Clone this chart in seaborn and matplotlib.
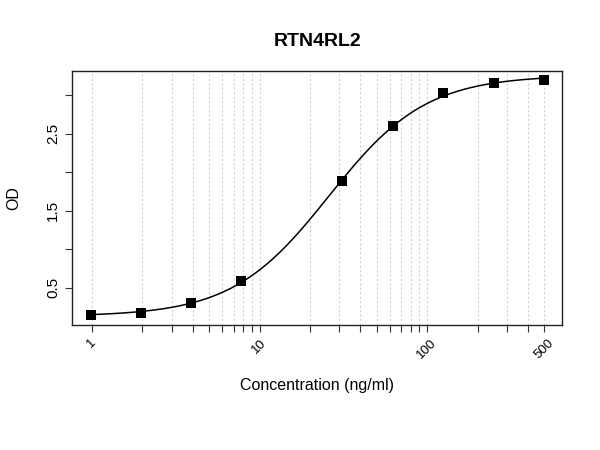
import numpy as np
import pandas as pd
import matplotlib
matplotlib.use("Agg")
import matplotlib.pyplot as plt
import matplotlib.ticker as mticker
import seaborn as sns

# standard curve data
conc = [0.98, 1.95, 3.9, 7.8, 31.25, 62.5, 125, 250, 500]
od = [0.15, 0.18, 0.31, 0.59, 1.88, 2.60, 3.02, 3.16, 3.19]

x_major = [1, 10, 100, 500]
x_major_labels = ["1", "10", "100", "500"]
y_ticks = [0.5, 1.0, 1.5, 2.0, 2.5, 3.0]
y_labels = ["0.5", "", "1.5", "", "2.5", ""]

df = pd.DataFrame({"conc": conc, "od": od})

# 4PL fit: grid search on c, b; a and d solved by least squares
xs = np.array(conc)
ys = np.array(od)
best = None
for c in np.linspace(10, 80, 141):
    for b in np.linspace(0.6, 2.5, 96):
        g = 1.0 / (1.0 + (xs / c) ** b)
        A = np.column_stack([g, 1 - g])
        coef, *_ = np.linalg.lstsq(A, ys, rcond=None)
        err = np.sum((A @ coef - ys) ** 2)
        if best is None or err < best[0]:
            best = (err, c, b, coef)
_, c, b, (a, d) = best
xfit = np.logspace(np.log10(0.98), np.log10(500), 300)
gfit = 1.0 / (1.0 + (xfit / c) ** b)
curve = pd.DataFrame({"conc": xfit, "od": a * gfit + d * (1 - gfit)})

sns.set_theme(style="white")
plt.rcParams["font.family"] = ["Liberation Sans", "DejaVu Sans"]
plt.rcParams.update({"text.color": "black", "axes.labelcolor": "black",
                     "xtick.color": "black", "ytick.color": "black"})

fig = plt.figure(figsize=(6, 4.5), dpi=100)
ax = fig.add_axes([0.12, 0.278, 0.817, 0.564])

sns.lineplot(data=curve, x="conc", y="od", color="black", lw=1.1, ax=ax)
sns.scatterplot(data=df, x="conc", y="od", marker="s", s=60, color="black",
                edgecolor="black", linewidth=0, ax=ax, zorder=3)

ax.set_xscale("log")
ax.set_xlim(0.76, 640)
ax.set_ylim(0.02, 3.31)

ax.xaxis.set_major_locator(mticker.FixedLocator(x_major))
ax.xaxis.set_major_formatter(mticker.FixedFormatter(x_major_labels))
minor = list(range(2, 10)) + list(range(20, 100, 10)) + [200, 300, 400]
ax.xaxis.set_minor_locator(mticker.FixedLocator(minor))
ax.xaxis.set_minor_formatter(mticker.NullFormatter())
ax.grid(True, axis="x", which="both", linestyle=(0, (2, 2)), color="#d0d0d0", lw=0.8)
ax.set_axisbelow(True)

ax.set_yticks(y_ticks)
ax.set_yticklabels(y_labels, rotation=90, va="center")

ax.tick_params(axis="both", which="both", direction="out", length=5, width=0.8,
               color="#333333", bottom=True, left=True)
plt.setp(ax.get_xticklabels(), rotation=45, fontsize=9.5)
plt.setp(ax.get_yticklabels(), fontsize=11)

for s in ax.spines.values():
    s.set_color("#222222")
    s.set_linewidth(1.0)

ax.set_xlabel("Concentration (ng/ml)", fontsize=11.5, labelpad=12, color="black")
ax.set_ylabel("OD", fontsize=11.5, labelpad=18, color="black")
ax.set_title("RTN4RL2", fontsize=14, fontweight="bold", pad=18, color="black")

fig.savefig("out.png", dpi=100)
